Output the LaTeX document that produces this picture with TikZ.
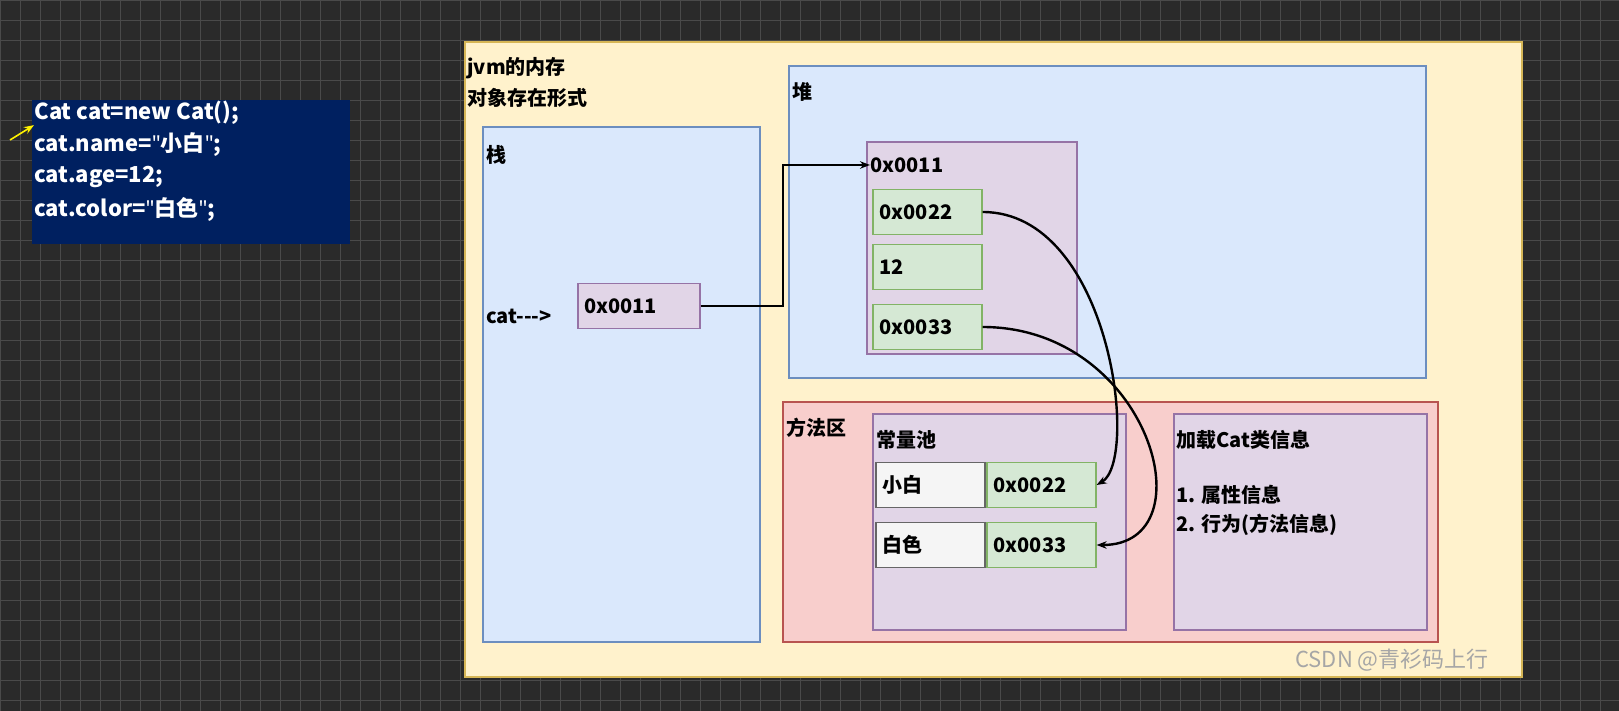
\documentclass[tikz,border=0pt]{standalone}
\usepackage{fontspec}
\setmainfont{Noto Sans CJK SC}
\newfontfamily\latinfont{Noto Sans}
\newcommand\qmark{{\latinfont\bfseries"}}
\usetikzlibrary{arrows.meta}
\definecolor{bgdark}{HTML}{2A2A2A}
\definecolor{gridc}{HTML}{4A4A4A}
\definecolor{navy}{HTML}{002060}
\tikzset{
  bluebox/.style={fill={rgb,255:red,218;green,232;blue,252},draw={rgb,255:red,108;green,142;blue,191},line width=0.6pt},
  purplebox/.style={fill={rgb,255:red,225;green,213;blue,231},draw={rgb,255:red,150;green,115;blue,166},line width=0.6pt},
  greenbox/.style={fill={rgb,255:red,213;green,232;blue,212},draw={rgb,255:red,130;green,179;blue,102},line width=0.6pt},
  greybox/.style={fill={rgb,255:red,245;green,245;blue,245},draw={rgb,255:red,102;green,102;blue,102},line width=0.6pt},
  lbl/.style={anchor=west,font=\bfseries\fontsize{10}{12}\selectfont,inner sep=0pt},
  codeline/.style={lbl,white,font=\bfseries\fontsize{11}{13}\selectfont},
  cell/.style={minimum width=54.5pt,minimum height=22.5pt,inner sep=3pt,text width=48pt,font=\bfseries\fontsize{10}{12}\selectfont},
  link/.style={-{Stealth[length=5pt]},line width=1.2pt,black}
}
\begin{document}
\begin{tikzpicture}[x=0.5pt,y=-0.5pt]
  \useasboundingbox (0,0) rectangle (1619,711);
  \fill[bgdark] (0,0) rectangle (1619,711);
  \foreach \gx in {0,20,...,1620} \draw[gridc,line width=0.4pt] (\gx,0) -- (\gx,711);
  \foreach \gy in {0,20,...,700} \draw[gridc,line width=0.4pt] (0,\gy) -- (1619,\gy);
  % code
  \fill[navy] (32,100) rectangle (350,244);
  \node[codeline] (l1) at (34,113) {Cat cat=new Cat();};
  \node[codeline] (l2) at (34,145) {cat.name=\qmark 小白\qmark;};
  \node[codeline] (l3) at (34,177) {cat.age=12;};
  \node[codeline] (l4) at (34,209) {cat.color=\qmark 白色\qmark;};
  \coordinate (ys) at (10,140);
  \draw[-{Stealth[length=5pt]},yellow,line width=0.8pt] (ys) -- (l1.south west);
  % jvm
  \filldraw[fill={rgb,255:red,255;green,242;blue,204},draw={rgb,255:red,214;green,182;blue,86},line width=0.6pt] (465,42) rectangle (1522,677);
  \node[lbl] (jvm) at (467,68) {jvm的内存};
  \node[lbl] (form) at (467,98) {对象存在形式};
  % stack
  \filldraw[bluebox] (483,127) rectangle (760,642);
  \node[lbl] (stk) at (486,155) {栈};
  \node[lbl] (cat) at (486,316) {cat-{}-{}-{}>};
  \node[purplebox,cell,minimum width=60pt,text width=55pt] (ref) at (639,306) {0x0011};
  % heap
  \filldraw[bluebox] (789,66) rectangle (1426,378);
  \node[lbl] (heap) at (792,92) {堆};
  \filldraw[purplebox] (867,142) rectangle (1077,354);
  \node[lbl] (obj) at (870,165) {0x0011};
  \foreach \n/\y/\t in {fa/212/0x0022,fb/267/12,fc/327/0x0033}
    \node[greenbox,cell] (\n) at (927.5,\y) {\t};
  % method area
  \filldraw[fill={rgb,255:red,248;green,206;blue,204},draw={rgb,255:red,184;green,84;blue,80},line width=0.6pt] (783,402) rectangle (1438,642);
  \node[lbl] (meth) at (786,428) {方法区};
  \filldraw[purplebox] (873,414) rectangle (1126,630);
  \node[lbl] (pool) at (876,440) {常量池};
  \node[greybox,cell] (s1) at (930.5,485) {小白};
  \node[greenbox,cell] (p1) at (1041.5,485) {0x0022};
  \node[greybox,cell] (s2) at (930.5,545) {白色};
  \node[greenbox,cell] (p2) at (1041.5,545) {0x0033};
  \filldraw[purplebox] (1174,414) rectangle (1427,630);
  \node[lbl] (cls) at (1176,440) {加载Cat类信息};
  \node[lbl] (attr) at (1176,495) {1. 属性信息};
  \node[lbl] (beh) at (1176,525) {2. 行为(方法信息)};
  % links
  \draw[link] (ref.east) -- (783,306) |- (obj.west);
  \draw[link] (fa.east) .. controls (1110,212) and (1140,460) .. (p1.east);
  \draw[link] (fc.east) .. controls (1150,327) and (1210,545) .. (p2.east);
  \node[lbl,gray!70,font=\fontsize{11}{13}\selectfont] (wm) at (1295,660) {CSDN @青衫码上行};
\end{tikzpicture}
\end{document}
